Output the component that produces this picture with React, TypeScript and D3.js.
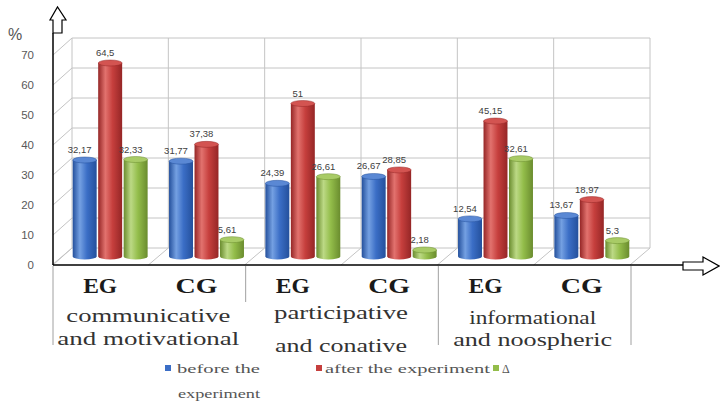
import React from 'react'
import * as d3 from 'd3'

// values
const groups = ['EG', 'CG', 'EG', 'CG', 'EG', 'CG']
const before = [32.17, 31.77, 24.39, 26.67, 12.54, 13.67]
const after = [64.5, 37.38, 51, 28.85, 45.15, 18.97]
const delta = [32.33, 5.61, 26.61, 2.18, 32.61, 5.3]
const seriesNames = ['before the experiment', 'after the experiment', 'Δ']
const yTicks = [0, 10, 20, 30, 40, 50, 60, 70]
const categories = [
  ['communicative', 'and motivational'],
  ['participative', 'and conative'],
  ['informational', 'and noospheric'],
]

const W = 720
const H = 405
const depthX = 20
const depthY = 17

const colors = [
  { dark: '#24509c', base: '#3b6ec6', light: '#74a0e2', cap: '#5a88d4' },
  { dark: '#952626', base: '#c63f3d', light: '#e2726e', cap: '#d35451' },
  { dark: '#6a8c2e', base: '#93bd4a', light: '#bcd985', cap: '#a8cb66' },
]

// per-line text placement of the category captions
const catLines = [
  [{ dy: 322, len: 164 }, { dy: 345, len: 182 }],
  [{ dy: 319, len: 134 }, { dy: 352, len: 132 }],
  [{ dy: 324, len: 127 }, { dy: 346, len: 159 }],
]

const fmt = (v: number) => String(v).replace('.', ',')

export default function App() {
  const yFront = d3.scaleLinear().domain([0, 70]).range([265, 55])
  const yBack = (v: number) => yFront(v) - depthY
  const yMid = (v: number) => yFront(v) - depthY / 2

  const idx = groups.map((_, i) => i)
  const xFront = d3.scaleBand<number>().domain(idx).range([52, 630]).padding(0)
  const colW = xFront.bandwidth()
  const xInner = d3
    .scaleBand<number>()
    .domain([0, 1, 2])
    .range([0, colW])
    .paddingInner(0.06)
    .paddingOuter(0.42)

  const values = [before, after, delta]
  const bounds = idx.map((i) => xFront(i) as number).concat([630])
  const gridColor = '#c4c4c4'

  return (
    <svg
      width={W}
      height={H}
      style={{ position: 'absolute', left: 0, top: 0, background: '#fff' }}
    >
      <defs>
        {colors.map((c, k) => (
          <linearGradient key={k} id={'grad' + k} x1="0" x2="1" y1="0" y2="0">
            <stop offset="0" stopColor={c.dark} />
            <stop offset="0.3" stopColor={c.light} />
            <stop offset="0.6" stopColor={c.base} />
            <stop offset="1" stopColor={c.dark} />
          </linearGradient>
        ))}
      </defs>

      {/* back wall + side wall grid */}
      {yTicks.map((t) => (
        <g key={'g' + t}>
          <line x1={52 + depthX} x2={630 + depthX} y1={yBack(t)} y2={yBack(t)} stroke={gridColor} />
          <line x1={53} x2={52 + depthX} y1={yFront(t)} y2={yBack(t)} stroke={gridColor} />
        </g>
      ))}
      {bounds.map((b, i) => (
        <g key={'v' + i}>
          <line x1={b + depthX} x2={b + depthX} y1={yBack(0)} y2={yBack(70)} stroke={gridColor} />
          <line x1={b} x2={b + depthX} y1={yFront(0)} y2={yBack(0)} stroke={gridColor} />
        </g>
      ))}

      {/* bars */}
      {idx.map((i) =>
        values.map((vals, k) => {
          const v = vals[i]
          const x = (xFront(i) as number) + depthX / 2 + (xInner(k) as number)
          const bw = xInner.bandwidth()
          const cx = x + bw / 2
          const top = yMid(v)
          const base = yMid(0)
          return (
            <g key={i + '-' + k}>
              <ellipse cx={cx} cy={base} rx={bw / 2} ry={3} fill={'url(#grad' + k + ')'} />
              <rect x={x} y={top} width={bw} height={base - top} fill={'url(#grad' + k + ')'} />
              <ellipse cx={cx} cy={top} rx={bw / 2} ry={3} fill={colors[k].cap} stroke={colors[k].dark} strokeWidth={0.5} />
              <text
                x={cx - 5}
                y={top - 7}
                textAnchor="middle"
                fontFamily="Liberation Sans, Arial, sans-serif"
                fontSize={9.5}
                fill="#404040"
              >
                {fmt(v)}
              </text>
            </g>
          )
        })
      )}

      {/* y tick labels */}
      {yTicks.map((t) => (
        <text
          key={'t' + t}
          x={34}
          y={yFront(t)}
          dy="0.35em"
          textAnchor="end"
          fontFamily="Liberation Sans, Arial, sans-serif"
          fontSize={11.5}
          fill="#595959"
        >
          {t}
        </text>
      ))}
      <text x={8} y={40} fontFamily="Liberation Sans, Arial, sans-serif" fontSize={16} fill="#555">
        %
      </text>

      {/* axes with hollow arrows */}
      <line x1={53} x2={53} y1={33} y2={265} stroke="#000" strokeWidth={1.5} />
      <polygon points="53,33 53,20 50,20 57.5,7 66,20 62,20 62,33" fill="#fff" stroke="#000" strokeWidth={1.2} />
      <line x1={53} x2={683} y1={265} y2={265} stroke="#000" strokeWidth={1.5} />
      <polygon points="683,262 703,262 703,257 719,266 703,275 703,270 683,270" fill="#fff" stroke="#000" strokeWidth={1.2} />

      {/* category separators below axis */}
      {[0, 2, 4, 6].map((b) => (
        <line
          key={'s' + b}
          x1={bounds[b] + 1}
          x2={bounds[b] + 1}
          y1={266}
          y2={b === 2 ? 302 : 345}
          stroke="#a0a0a0"
        />
      ))}

      {/* group labels */}
      {groups.map((g, i) => (
        <text
          key={'gl' + i}
          x={(xFront(i) as number) + colW / 2}
          y={293}
          textAnchor="middle"
          fontFamily="Liberation Serif, Times New Roman, serif"
          fontWeight="bold"
          fontSize={g === 'CG' ? 21 : 20}
          textLength={g === 'CG' ? 42 : 34}
          lengthAdjust="spacingAndGlyphs"
          fill="#1a1a1a"
        >
          {g}
        </text>
      ))}

      {/* category captions */}
      {categories.map((lines, c) =>
        lines.map((s, j) => (
          <text
            key={'c' + c + j}
            x={(bounds[c * 2] + bounds[c * 2 + 2]) / 2 + (c === 2 ? -1 : 0)}
            y={catLines[c][j].dy}
            textAnchor="middle"
            fontFamily="Liberation Serif, Times New Roman, serif"
            fontSize={19}
            textLength={catLines[c][j].len}
            lengthAdjust="spacingAndGlyphs"
            fill="#333"
          >
            {s}
          </text>
        ))
      )}

      {/* legend */}
      <g fontFamily="Liberation Serif, Times New Roman, serif" fontSize={12} fill="#555">
        <rect x={165} y={365} width={6} height={6} fill={colors[0].base} />
        <text x={177} y={373} textLength={83} lengthAdjust="spacingAndGlyphs">before the</text>
        <text x={178} y={398} textLength={82} lengthAdjust="spacingAndGlyphs">experiment</text>
        <rect x={316} y={365} width={6} height={6} fill={colors[1].base} />
        <text x={325} y={373} textLength={165} lengthAdjust="spacingAndGlyphs">{seriesNames[1]}</text>
        <rect x={493} y={365} width={6} height={6} fill={colors[2].base} />
        <text x={502} y={373}>{seriesNames[2]}</text>
      </g>
    </svg>
  )
}
